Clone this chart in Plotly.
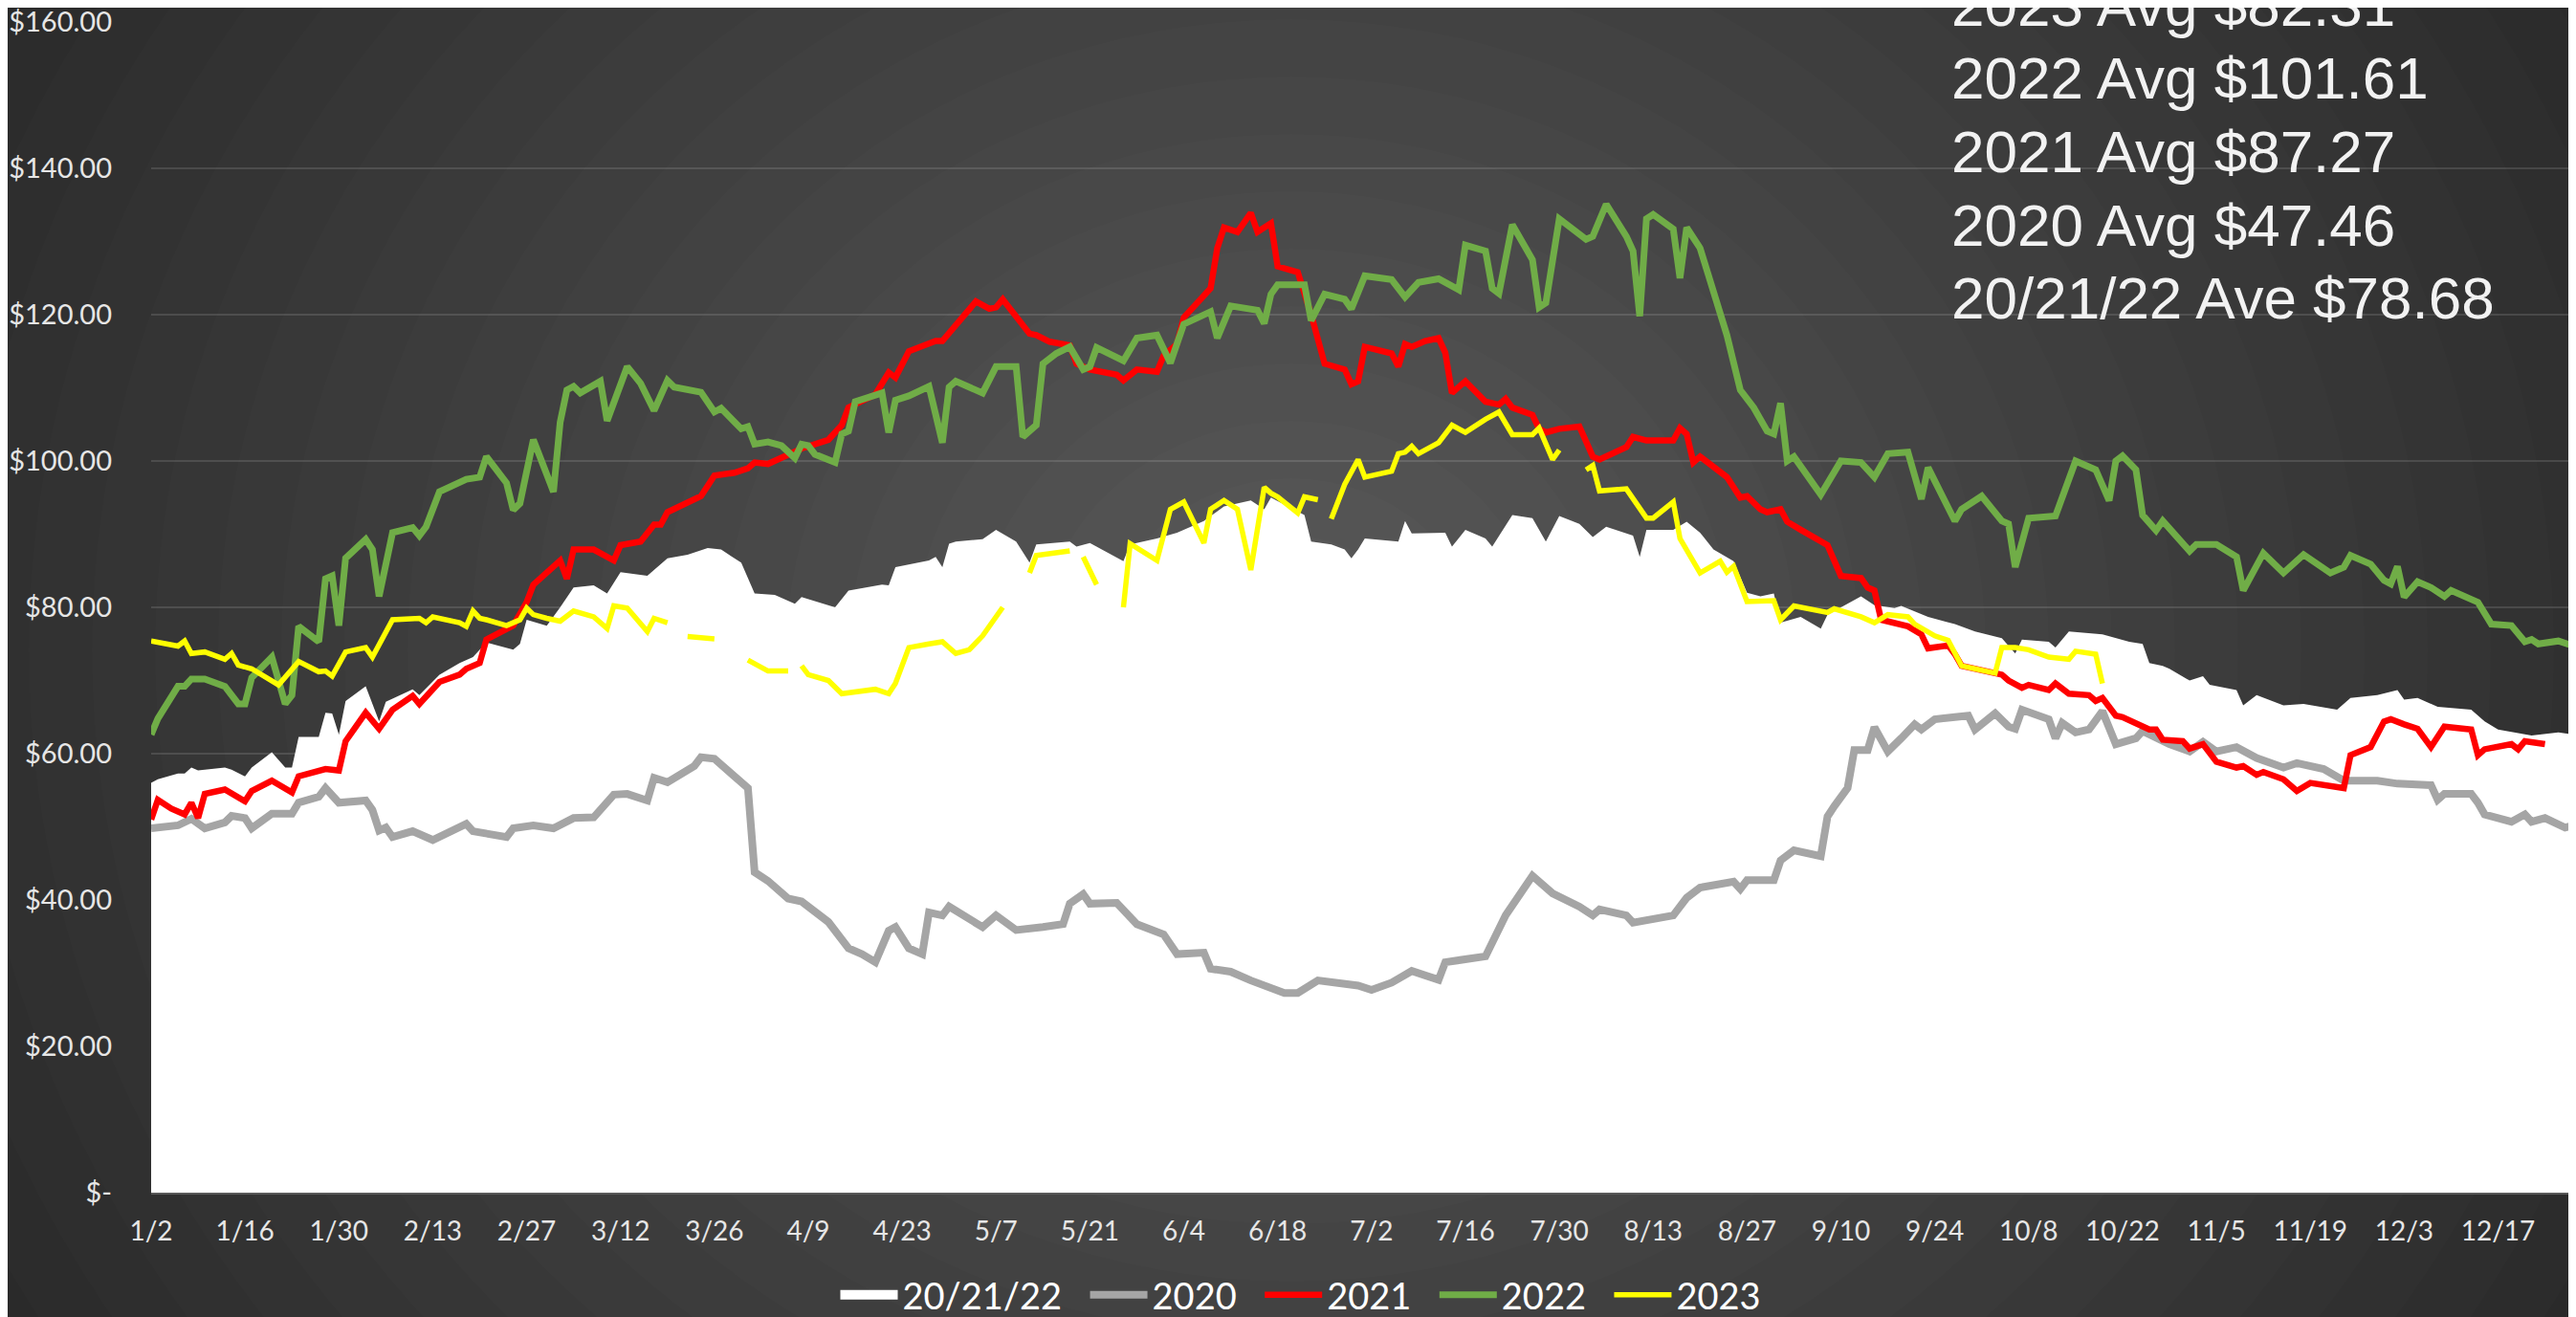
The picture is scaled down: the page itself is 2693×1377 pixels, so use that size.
import pandas as pd
import plotly.graph_objects as go

# x values are days counted from 1/2 (2020 calendar, so Feb has 29 days), y values are $ per unit
START = pd.Timestamp("2020-01-02")

avg_day = [0, 1, 4, 5, 6, 7, 11, 12, 14, 15, 18, 20, 21, 22, 25, 26, 27, 28, 29, 32, 34, 35, 39, 40, 43, 46, 48, 50,
           54, 55, 56, 59, 61, 63, 66, 68, 70, 74, 77, 80, 83, 85, 88, 90, 93, 96, 97, 102, 104, 109, 110, 111, 116,
           117, 118, 119, 120, 124, 126, 129, 131, 132, 137, 138, 140, 145, 146, 150, 153, 157, 160, 164, 166, 167,
           172, 173, 176, 178, 179, 180, 181, 186, 187, 188, 193, 194, 196, 199, 200, 203, 206, 208, 210, 213, 215,
           217, 221, 222, 223, 227, 229, 231, 233, 236, 238, 240, 242, 243, 246, 249, 250, 255, 257, 260, 261, 265,
           269, 272, 276, 278, 279, 283, 284, 286, 291, 295, 297, 298, 300, 301, 304, 306, 307, 311, 312, 314, 318,
           321, 326, 328, 332, 335, 336, 338, 341, 346, 348, 350, 355, 359, 362]
avg_val = [56, 56.5, 57.3, 57.3, 58.1, 57.7, 58.1, 57.8, 56.9, 58.1, 60.2, 58.1, 58.1, 62.3, 62.3, 65.6, 65.5, 62.6,
           67.2, 69.2, 64.4, 67.1, 68.8, 68, 70.8, 72.4, 73.2, 75.2, 74.2, 75, 78.3, 77.5, 80, 82.7, 83, 81.9, 84.8,
           84.3, 86.7, 87.2, 88.1, 87.9, 86.1, 81.9, 81.7, 80.5, 81.4, 80, 82.3, 83.1, 83, 85.5, 86.4, 86.9, 85.5,
           88.7, 89, 89.3, 90.6, 89, 86.1, 88.6, 89, 88.3, 88.8, 86.3, 88.6, 89.4, 90.2, 91.8, 93.8, 94.6, 93.4, 95,
           92.6, 89, 88.6, 87.9, 86.7, 87.9, 89.4, 89, 91.8, 90.1, 90.2, 88.3, 90.6, 89.4, 88.3, 92.6, 92.2, 89, 92.5,
           91.4, 89.6, 91, 89.8, 86.9, 90.6, 90.6, 91.7, 90.2, 87.9, 86.3, 82, 81.5, 81.9, 77.9, 78.7, 77.1, 79, 81.5,
           80.3, 79.9, 80.2, 78.7, 77.7, 76.7, 75.8, 73.7, 75.6, 75.3, 74.5, 76.7, 76.3, 75.3, 75, 72.4, 72, 71.6, 70,
           70.6, 69.4, 68.7, 66.6, 68, 66.6, 66.8, 66, 67.6, 68, 68.7, 67.4, 67.6, 66.4, 66, 64.4, 63.3, 62.5, 62.9,
           62.5]

y2020_day = [0, 4, 6, 8, 11, 12, 14, 15, 18, 21, 22, 25, 26, 28, 32, 33, 34, 35, 36, 39, 42, 46, 47, 48, 53, 54, 57,
             60, 63, 66, 69, 71, 74, 75, 77, 81, 82, 84, 87, 89, 90, 92, 95, 97, 101, 104, 106, 108, 110, 111, 113,
             115, 116, 118, 119, 121, 124, 126, 129, 133, 136, 137, 139, 140, 144, 147, 151, 153, 157, 158, 161, 164,
             169, 171, 174, 180, 182, 185, 188, 192, 193, 199, 202, 206, 209, 213, 215, 216, 220, 221, 227, 229, 231,
             236, 237, 238, 240, 242, 243, 245, 249, 250, 251, 253, 254, 256, 257, 259, 261, 263, 264, 266, 269, 271,
             272, 275, 277, 278, 279, 283, 284, 285, 287, 289, 291, 293, 296, 297, 301, 304, 306, 308, 311, 314, 318,
             320, 324, 327, 332, 335, 340, 341, 342, 346, 347, 348, 352, 354, 355, 357, 360, 362]
y2020_val = [49.8, 50.2, 51.1, 49.8, 50.6, 51.5, 51.2, 49.8, 51.8, 51.8, 53.3, 54.1, 55.3, 53.3, 53.6, 52.3, 49.5,
             49.9, 48.6, 49.4, 48.2, 49.8, 50.4, 49.4, 48.6, 49.8, 50.2, 49.8, 51.2, 51.3, 54.4, 54.5, 53.6, 56.7,
             56.1, 58.3, 59.5, 59.3, 57.1, 55.3, 43.8, 42.6, 40.2, 39.8, 37, 33.4, 32.6, 31.5, 35.8, 36.3, 33.4, 32.6,
             38.3, 37.9, 39.1, 37.9, 36.3, 37.9, 35.9, 36.3, 36.7, 39.5, 40.8, 39.5, 39.6, 36.7, 35.3, 32.6, 32.8,
             30.6, 30.2, 29, 27.3, 27.3, 29, 28.3, 27.7, 28.7, 30.3, 29.1, 31.5, 32.3, 37.9, 43.3, 40.9, 39.1, 37.9,
             38.7, 37.9, 36.9, 37.9, 40.3, 41.7, 42.5, 41.5, 42.7, 42.8, 42.7, 45.4, 46.8, 46, 51.4, 52.8, 55.3, 60.5,
             60.5, 63.6, 60.3, 62.1, 64, 63.3, 64.7, 65, 65.2, 63.3, 65.5, 63.7, 63.4, 66, 64.7, 62.1, 64.2, 62.9,
             63.3, 65.8, 61.3, 62.1, 63.1, 61.3, 60.3, 61.6, 60.3, 60.9, 59.4, 58.1, 58.7, 57.9, 56.3, 56.3, 55.9,
             55.7, 53.7, 54.5, 54.5, 53.3, 51.7, 50.7, 51.7, 50.7, 51.2, 49.9, 50.4]

y2021_day = [0, 1, 3, 5, 6, 7, 8, 11, 14, 15, 18, 21, 22, 26, 28, 29, 32, 34, 36, 39, 40, 43, 46, 47, 49, 50, 54, 56,
             57, 59, 61, 62, 63, 66, 69, 70, 73, 75, 76, 77, 80, 82, 84, 87, 89, 90, 92, 95, 97, 101, 103, 104, 108,
             110, 111, 113, 115, 117, 118, 120, 123, 125, 126, 127, 129, 131, 132, 134, 137, 138, 140, 144, 145, 147,
             150, 151, 153, 154, 158, 159, 160, 162, 164, 165, 167, 168, 171, 173, 175, 178, 179, 180, 181, 185, 186,
             187, 188, 190, 192, 193, 194, 196, 199, 201, 202, 203, 206, 207, 208, 210, 213, 215, 216, 220, 221, 223,
             227, 228, 229, 230, 231, 235, 237, 238, 240, 241, 243, 244, 246, 250, 252, 255, 256, 257, 258, 260, 262,
             264, 265, 268, 269, 270, 276, 277, 279, 280, 283, 284, 286, 289, 290, 291, 293, 294, 298, 299, 300, 303,
             304, 306, 308, 311, 312, 314, 315, 318, 320, 322, 324, 327, 328, 331, 333, 334, 336, 338, 340, 342, 346,
             347, 348, 352, 353, 354, 357]
y2021_val = [51, 53.7, 52.5, 51.7, 53.3, 51.2, 54.5, 55.1, 53.5, 54.9, 56.3, 54.7, 56.9, 57.9, 57.7, 61.7, 65.6, 63.4,
             66, 67.9, 66.8, 69.8, 70.8, 71.6, 72.4, 75.6, 77.5, 80.7, 83.1, 84.7, 86.4, 83.9, 87.9, 87.9, 86.4, 88.5,
             89, 91.3, 91.3, 93, 94.4, 95.2, 98, 98.4, 99, 99.8, 99.6, 100.8, 101.7, 102.9, 104.9, 107.3, 109.1,
             112.1, 111.4, 115, 115.6, 116.4, 116.4, 118.6, 121.8, 120.8, 121, 122.1, 119.6, 117.4, 117.2, 116.3,
             115.8, 113.3, 112.5, 111.8, 111, 112.5, 112.2, 114.4, 116, 119.6, 123.6, 129.1, 131.9, 131.3, 133.9,
             131.3, 132.5, 126.6, 125.8, 120, 113.3, 112.5, 110.5, 110.9, 115.6, 114.7, 112.9, 116, 115.6, 116.4,
             116.8, 114.8, 109.3, 110.9, 108.1, 107.7, 108.5, 107.3, 106.3, 104.4, 103.9, 104.4, 104.7, 100.6, 100.2,
             101.9, 103.3, 102.8, 102.8, 104.5, 103.7, 99.8, 100.6, 97.8, 95, 95.2, 93.4, 93, 93.4, 91.7, 90.6, 88.5,
             84.3, 84, 82.7, 82.3, 78.3, 77.9, 77.4, 76.3, 74.4, 74.8, 73.6, 72, 70.8, 70, 69, 69.4, 68.7, 69.6, 68.2,
             68, 67.2, 67.6, 65.2, 65, 63.3, 63.3, 61.9, 61.7, 60.7, 61.3, 58.9, 58.1, 58.3, 57.1, 57.5, 56.5, 54.9,
             56, 55.7, 55.3, 59.8, 60.9, 64.4, 64.7, 64, 63.4, 60.9, 63.7, 63.3, 59.8, 60.6, 61.3, 60.6, 61.7, 61.3]

y2022_day = [0, 1, 4, 5, 6, 8, 11, 13, 14, 15, 18, 20, 21, 22, 25, 26, 27, 28, 29, 32, 33, 34, 36, 39, 40, 41, 43, 47,
             49, 50, 53, 54, 55, 57, 60, 61, 62, 63, 64, 67, 68, 71, 73, 75, 77, 78, 82, 84, 85, 88, 89, 90, 92, 94,
             96, 97, 98, 99, 102, 103, 104, 105, 109, 110, 111, 113, 116, 118, 119, 120, 124, 126, 129, 130, 132, 133,
             135, 137, 139, 140, 141, 145, 147, 150, 152, 154, 158, 159, 161, 165, 166, 167, 168, 172, 173, 175, 178,
             179, 181, 185, 187, 189, 192, 195, 196, 199, 200, 201, 203, 206, 207, 208, 210, 214, 215, 217, 220, 221,
             222, 223, 224, 227, 228, 229, 231, 235, 237, 239, 241, 242, 243, 244, 245, 249, 252, 255, 257, 259, 262,
             264, 265, 269, 270, 273, 276, 277, 278, 280, 284, 287, 290, 292, 293, 294, 296, 297, 299, 300, 304, 305,
             308, 311, 312, 315, 318, 321, 325, 327, 328, 331, 333, 334, 335, 336, 338, 340, 342, 343, 346, 347, 349,
             352, 354, 355, 356, 359, 362]
y2022_val = [62.6, 64.8, 69.2, 69.2, 70.2, 70.2, 69.2, 66.8, 66.8, 70.4, 73.2, 66.8, 68, 77.4, 75.3, 83.9, 84.3, 77.5,
             86.7, 89.3, 87.9, 81.5, 90.2, 90.9, 89.8, 91, 95.8, 97.5, 97.8, 100.6, 97, 93.3, 94.2, 102.9, 95.8,
             105.3, 109.7, 110.2, 109.3, 110.9, 105.5, 112.9, 110.6, 106.9, 111, 110.1, 109.4, 106.7, 107.2, 104.4,
             104.7, 102.3, 102.6, 102.1, 100.4, 102.3, 102.1, 100.9, 99.8, 103.7, 104.1, 108.1, 109.3, 103.9, 108.3,
             108.9, 110.2, 102.5, 110.1, 110.9, 109.3, 112.9, 112.9, 103.3, 104.9, 113.3, 114.7, 115.6, 112.5, 112.9,
             115.5, 113.7, 116.8, 117.2, 113.4, 118.7, 120.4, 116.8, 121.2, 120.6, 118.8, 122.8, 124.1, 124.1, 119.2,
             122.8, 122.1, 120.8, 125.3, 124.8, 122.4, 124.4, 124.9, 123.4, 129.5, 128.7, 123.6, 122.9, 132.3, 127.5,
             121, 121.6, 133.1, 130.3, 130.7, 135.1, 130.7, 128.7, 119.8, 133.1, 133.7, 131.7, 125, 131.9, 129.1,
             117.2, 109.7, 107.3, 104.1, 103.7, 107.9, 100, 100.6, 95.4, 100, 99.8, 97.8, 101, 101.2, 94.8, 99.1, 91.8,
             93.4, 95.2, 91.8, 91.4, 85.5, 92.2, 92.5, 100, 98.8, 94.6, 100, 100.7, 98.8, 92.6, 90.5, 91.8, 87.7,
             88.6, 88.6, 86.9, 82.3, 87.4, 84.7, 87.2, 84.7, 85.5, 87.1, 85.9, 83.7, 83.2, 85.6, 81.4, 83.5, 82.7,
             81.5, 82.3, 81.1, 80.7, 77.7, 77.5, 75.3, 75.6, 75, 75.4, 74.5]

# None marks the days with no 2023 quote (gaps in the line)
y2023_day = [0, 4, 5, 6, 8, 11, 12, 13, 15, 19, 22, 25, 26, 27, 29, 32, 33, 36, 40, 41, 42, 46, 47, 48, 49, 50, 53,
             55, 56, 57, 59, 61, 63, 66, 68, 69, 71, 74, 75, 77, 78, 80, 84, 85, 89, 92, 95, 96, 97, 98, 101, 103,
             108, 110, 111, 113, 116, 118, 120, 122, 124, 127, 128, 131, 132, 137, 138, 139, 141, 142, 145, 146, 150,
             152, 154, 157, 158, 160, 162, 164, 166, 167, 168, 171, 172, 174, 175, 176, 178, 180, 181, 185, 186, 187,
             188, 189, 192, 194, 196, 199, 201, 203, 206, 207, 209, 210, 211, 214, 215, 216, 220, 223, 224, 227, 228,
             231, 234, 235, 236, 238, 240, 242, 243, 245, 250, 251, 255, 257, 259, 262, 263, 266, 268, 270, 272, 275,
             276, 278, 280, 283, 286, 287, 290, 291]
y2023_val = [75.4, 74.7, 75.4, 73.7, 73.9, 72.9, 73.7, 72.1, 71.6, 69.4, 72.6, 71.2, 71.3, 70.6, 73.9, 74.5, 73.2,
             78.3, 78.5, 77.9, 78.7, 77.9, 77.4, 79.5, 78.5, 78.3, 77.5, 78.3, 79.9, 79, 78.5, 78.1, 79.5, 78.7, 77.1,
             80.2, 79.9, 76.7, 78.5, 77.9, None, 76, 75.7, None, 72.8, 71.3, 71.3, None, 72, 70.8, 70, 68.2, 68.8,
             68.2, 69.6, 74.5, 75, 75.3, 73.7, 74.2, 76.1, 80, None, 84.7, 87.1, 87.7, None, 86.9, 83.1, None, 80,
             88.7, 86.4, 93.4, 94.4, 88.8, 93.4, 94.6, 93.4, 85.1, 96.4, 95.6, 95.1, 92.9, 95.1, 94.7, None, 92.1,
             96.8, 100.2, 97.8, 98.6, 101, 101.2, 102, 101, 102.5, 104.9, 103.9, 105.7, 106.7, 103.6, 103.6, 104.5,
             100.2, 101.5, None, 98.8, 99.4, 95.9, 96.2, 92.2, 92.2, 94.4, 89.4, 84.7, 86.3, 84.8, 85.6, 80.8, 80.8,
             80.9, 78.3, 80.2, 79.3, 79.8, 78.7, 77.9, 79, 78.7, 77.7, 76.1, 75.5, 72, 71.6, 71, 74.5, 74.5, 74.2,
             73.2, 72.9, 74, 73.6, 69.6]

avg_notes = ["2023 Avg $82.31", "2022 Avg $101.61", "2021 Avg $87.27", "2020 Avg $47.46", "20/21/22 Ave $78.68"]

y_ticks = list(range(0, 161, 20))
y_text = ["$-" if v == 0 else "${:.2f}".format(v) for v in y_ticks]


def to_dates(days):
    return START + pd.to_timedelta(days, unit="D")


for d, v in [(avg_day, avg_val), (y2020_day, y2020_val), (y2021_day, y2021_val),
             (y2022_day, y2022_val), (y2023_day, y2023_val)]:
    assert len(d) == len(v), (len(d), len(v))

# the page body adds an 8px margin, so the figure is sized to fit the window after it
OFF = 8
W, H = 2693 - OFF, 1377 - OFF
L, R, T, B = 150, 3, 15, 130
pw, ph = W - L - R, H - T - B


def px(xs):
    # screen x (window pixels) -> paper x
    return (xs - OFF - L) / pw


def py(ys):
    # screen y (window pixels) -> paper y
    return (H - B - (ys - OFF)) / ph


fig = go.Figure()

fig.add_trace(go.Scatter(
    x=to_dates(avg_day), y=avg_val, name="20/21/22", showlegend=False,
    mode="lines", fill="tozeroy", fillcolor="#ffffff",
    line=dict(color="#ffffff", width=0)))
# legend swatch for the area (a thick white bar, like the block in the original key)
fig.add_trace(go.Scatter(
    x=[None], y=[None], name="20/21/22\u00a0\u00a0", mode="lines",
    line=dict(color="#ffffff", width=10)))

lines = [("2020\u00a0\u00a0", y2020_day, y2020_val, "#a5a5a5", 8),
         ("2021\u00a0\u00a0", y2021_day, y2021_val, "#ff0000", 6.5),
         ("2022\u00a0\u00a0", y2022_day, y2022_val, "#70ad47", 7),
         ("2023", y2023_day, y2023_val, "#ffff00", 5.5)]
for name, d, v, c, w in lines:
    fig.add_trace(go.Scatter(
        x=to_dates(d), y=v, name=name, mode="lines",
        line=dict(color=c, width=w)))

# radial light in the background, built from stacked translucent circles
cx, cy = px(1350), py(680)
shapes = []
for i in range(24):
    r = 1500 - i * 60
    shapes.append(dict(
        type="circle", xref="paper", yref="paper", layer="below",
        x0=cx - 1.1 * r / pw, x1=cx + 1.1 * r / pw,
        y0=cy - r / ph, y1=cy + r / ph,
        fillcolor="#ffffff", opacity=0.0105, line=dict(width=0)))

notes_y = [5, 81, 158, 235, 311]
annotations = []
for txt, yy in zip(avg_notes, notes_y):
    annotations.append(dict(
        text=txt, xref="paper", yref="paper",
        x=px(2038), y=py(yy),
        xanchor="left", yanchor="middle", showarrow=False,
        font=dict(family="Liberation Sans", size=62, color="#f2f2f2")))

fig.update_layout(
    width=W, height=H,
    margin=dict(l=L, r=R, t=T, b=B),
    paper_bgcolor="#262626",
    plot_bgcolor="rgba(0,0,0,0)",
    font=dict(family="Lato", color="#e6e6e6", size=28),
    shapes=shapes,
    annotations=annotations,
    showlegend=True,
    legend=dict(
        orientation="h", xref="container", yref="container",
        x=(1360 - OFF) / W, y=1 - (1354 - OFF) / H, xanchor="center", yanchor="middle",
        font=dict(family="Lato", size=38, color="#ffffff"),
        bgcolor="rgba(0,0,0,0)", itemwidth=60, tracegroupgap=0),
    xaxis=dict(
        type="date", automargin=False,
        range=[START, START + pd.Timedelta(days=361.2)],
        tick0=START, dtick=14 * 86400000, tickformat="%-m/%-d",
        showgrid=False, zeroline=False,
        showline=True, linecolor="#595959", linewidth=2,
        ticks="", ticklabelstandoff=14, ticklabeloverflow="allow",
        tickfont=dict(family="Lato", size=28, color="#e6e6e6")),
    yaxis=dict(
        range=[0, 160], tickvals=y_ticks, ticktext=y_text, automargin=False,
        showgrid=True, gridcolor="rgba(255,255,255,0.12)", gridwidth=2,
        zeroline=False, showline=False,
        ticks="", ticklabelstandoff=40, ticklabeloverflow="allow",
        tickfont=dict(family="Lato", size=29, color="#e6e6e6")),
)

fig.write_html("out.html")
